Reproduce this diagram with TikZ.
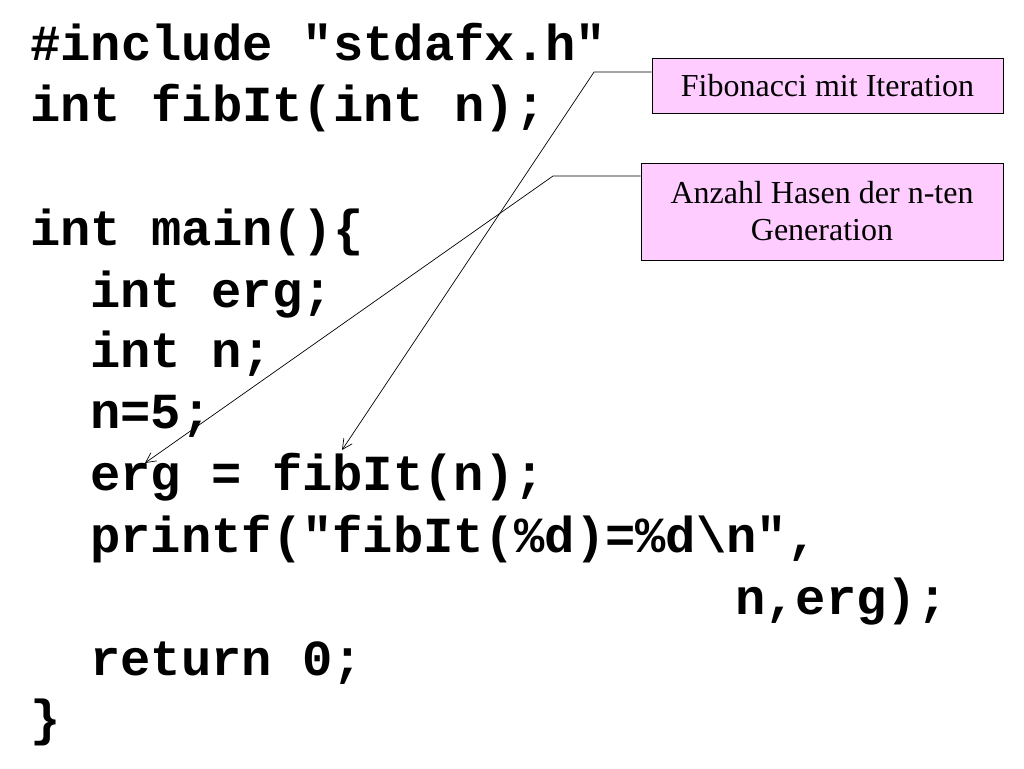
\documentclass[tikz,border=0pt]{standalone}
\usepackage{fontspec}
\setmainfont{Liberation Serif}
\newfontfamily\codefont{Liberation Mono}
\usetikzlibrary{arrows.meta}
\definecolor{notefill}{RGB}{255,204,255}
\begin{document}
\begin{tikzpicture}[x=1pt,y=-1pt,
  code/.style={anchor=base west,inner sep=0pt,font=\codefont\bfseries\fontsize{50.5}{50}\selectfont},
  note/.style={draw,fill=notefill,line width=0.8pt,inner sep=0pt,align=center,font=\fontsize{32}{37}\selectfont},
  conn/.style={line width=0.7pt,-{Straight Barb[length=10pt,width=10pt,line width=0.7pt]}}]
\useasboundingbox[fill=white] (0,0) rectangle (1024,768);
\node[code] (l1) at (30,60) {\#include "stdafx.h"};
\node[code] (l2) at (30,121) {int fibIt(int n);};
\node[code] (l3) at (30,245) {int main()\{};
\node[code] (l4) at (90,307) {int erg;};
\node[code] (l5) at (90,367) {int n;};
\node[code] (l6) at (90,428) {n=5;};
\node[code] (l7) at (90,490) {erg = fibIt(n);};
\node[code] (l8) at (90,552) {printf("fibIt(\%d)=\%d\textbackslash n",};
\node[code] (l9) at (735,614) {n,erg);};
\node[code] (l10) at (90,675) {return 0;};
\node[code] (l11) at (30,735) {\}};
\node[note,minimum width=351pt,minimum height=55pt] (b1) at (827.5,85.5) {Fibonacci mit Iteration};
\node[note,minimum width=362pt,minimum height=97pt] (b2) at (822,211.5) {Anzahl Hasen der n-ten\\Generation};
\coordinate (c1) at (594,72);
\coordinate (e1) at (342,450);
\coordinate (c2) at (553,176);
\coordinate (e2) at (145,463);
\draw[conn] (b1.west |- c1) -- (c1) -- (e1);
\draw[conn] (b2.west |- c2) -- (c2) -- (e2);
\end{tikzpicture}
\end{document}
